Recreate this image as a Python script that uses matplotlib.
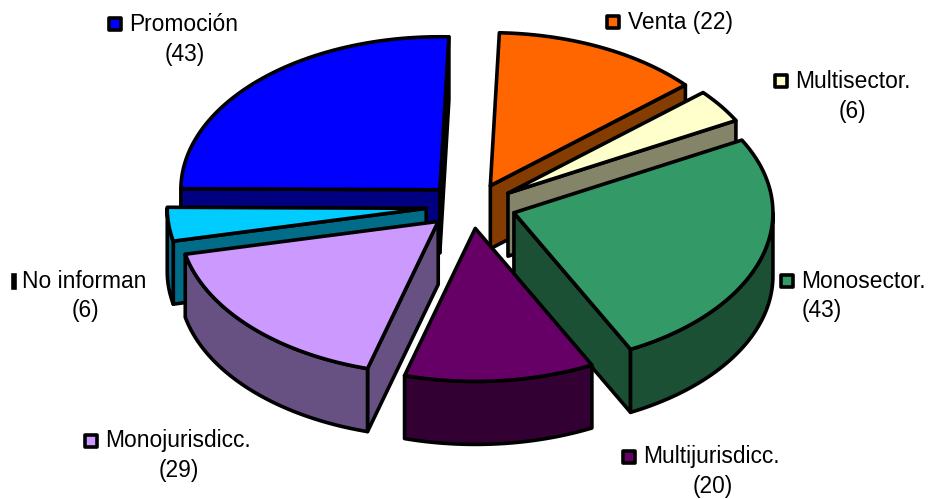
import numpy as np
import matplotlib
matplotlib.use("Agg")
import matplotlib.pyplot as plt
from matplotlib.patches import Polygon, Rectangle

plt.rcParams["font.family"] = ["Liberation Sans", "DejaVu Sans"]

# clockwise from the top, the way the slices are laid out
categories = ["Venta", "Multisector.", "Monosector.", "Multijurisdicc.",
              "Monojurisdicc.", "No informan", "Promoción"]
values = [22, 6, 43, 20, 29, 6, 43]
top_colors = ["#FF6600", "#FFFFCC", "#339966", "#660066",
              "#CC99FF", "#00CCFF", "#0000FF"]
side_colors = ["#843C00", "#848468", "#1C5035", "#330033",
               "#675082", "#006C88", "#000080"]
draw_order = [6, 0, 1, 5, 2, 4, 3]

# label anchors in pixels: marker x, first line y, second line centre x and y
label_pos = {
    "Promoción": (115, 24, 185, 54),
    "Venta": (613, 22, None, None),
    "Multisector.": (781, 81, 852, 111),
    "Monosector.": (787, 281, 822, 310),
    "Multijurisdicc.": (629, 457, 713, 487),
    "Monojurisdicc.": (91, 441, 179, 470),
    "No informan": (7, 281, 85, 310),
}

CX, CY = 471, 206
RX, RY = 259, 153
DEPTH = 63
EXPLODE = 45
START = 88.0
LW = 2.6


def arc(cx, cy, t1, t2, dz=0):
    t = np.radians(np.linspace(t1, t2, 60))
    return np.column_stack([cx + RX * np.cos(t), cy - RY * np.sin(t) + dz])


def edge(cx, cy, t):
    r = np.radians(t)
    return np.array([cx + RX * np.cos(r), cy - RY * np.sin(r)])


fig = plt.figure(figsize=(9.3, 4.99), dpi=100)
ax = fig.add_axes([0, 0, 1, 1])
ax.set_xlim(0, 930)
ax.set_ylim(499, 0)
ax.axis("off")

ends = START - np.cumsum(values) / sum(values) * 360
starts = np.r_[START, ends[:-1]]


def poly(pts, color):
    ax.add_patch(Polygon(pts, closed=True, facecolor=color, edgecolor="black",
                         linewidth=LW, joinstyle="round"))


for i in draw_order:
    t1, t2 = starts[i], ends[i]
    mid = np.radians((t1 + t2) / 2)
    cx = CX + EXPLODE * np.cos(mid)
    cy = CY - EXPLODE * 0.5 * np.sin(mid)
    apex = np.array([cx, cy])
    down = np.array([0, DEPTH])

    # radial faces that look towards the viewer
    if np.cos(np.radians(t1)) < 0:
        p = edge(cx, cy, t1)
        poly([apex, p, p + down, apex + down], side_colors[i])
    if np.cos(np.radians(t2)) > 0:
        p = edge(cx, cy, t2)
        poly([apex, p, p + down, apex + down], side_colors[i])

    # outer wall, front half only
    for k in (-1, -2):
        lo, hi = 180 + 360 * (k + 1) - 360, 360 * (k + 1)
        a, b = min(t1, hi), max(t2, lo)
        if a > b:
            top = arc(cx, cy, a, b)
            bottom = arc(cx, cy, b, a, DEPTH)
            poly(np.vstack([top, bottom]), side_colors[i])

    poly(np.vstack([apex, arc(cx, cy, t1, t2)]), top_colors[i])

for name, val, col in zip(categories, values, top_colors):
    mx, my, cx2, y2 = label_pos[name]
    if name == "No informan":
        # marker is cut off by the left of the legend entry
        ax.add_patch(Rectangle((13, my - 6), 2, 13, facecolor=col,
                               edgecolor="black", linewidth=LW))
    else:
        ax.add_patch(Rectangle((mx - 6, my - 6), 12, 12, facecolor=col,
                               edgecolor="black", linewidth=LW,
                               joinstyle="round"))
    first = f"{name} ({val})" if cx2 is None else name
    ax.text(mx + 14.5, my, first, fontsize=16.4, color="black",
            ha="left", va="center")
    if cx2 is not None:
        ax.text(cx2, y2, f"({val})", fontsize=16.4, color="black",
                ha="center", va="center")

fig.savefig("out.png", dpi=100, facecolor="white")
